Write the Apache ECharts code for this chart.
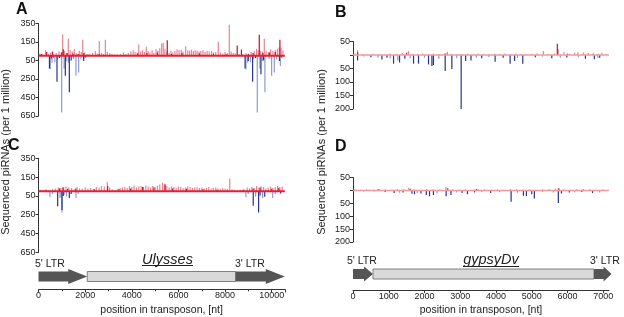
<!DOCTYPE html>
<html>
<head>
<meta charset="utf-8">
<script src="https://cdn.jsdelivr.net/npm/echarts@6/dist/echarts.min.js"></script>
<style>
  html, body { margin: 0; padding: 0; background: #fff; }
  #main { width: 624px; height: 317px; }
</style>
</head>
<body>
<div id="main"></div>
<script>
// transposon lengths (nt) used as x-axis ends
const ulyssesLen = 10560;
const gypsyLen = 7160;

// gene structure: [start, end, kind]  kind 1 = LTR arrow, 0 = body
const ulyssesParts = [[0, 2090, 1], [2090, 8450, 0], [8450, 10560, 1]];
const gypsyParts = [[0, 560, 1], [560, 6740, 0], [6740, 7230, 1]];

// y ticks (labels are absolute values)
const ulyssesTicks = {min: -650, max: 350, step: 200};
const gypsyTicks = {min: -200, max: 50, step: 50};

// panel A  [position, reads]
const aPink = [[60,25],[180,15],[300,60],[420,20],[520,35],[640,15],[760,30],[880,45],[980,40],[1037,228],[1120,55],[1200,30],[1278,184],[1360,60],[1450,45],[1540,70],[1620,30],[1750,55],[1830,40],[1894,173],[1980,35],[2080,20],[2200,15],[2320,30],[2440,50],[2520,25],[2607,160],[2700,30],[2780,20],[2865,173],[2950,40],[3050,30],[3150,20],[3260,15],[3400,10],[3520,20],[3640,35],[3740,20],[3850,30],[3960,45],[4060,60],[4140,40],[4230,35],[4300,121],[4380,45],[4460,60],[4540,40],[4620,96],[4700,50],[4780,35],[4870,60],[4950,30],[5040,70],[5120,55],[5200,80],[5280,131],[5350,139],[5420,75],[5500,45],[5600,30],[5680,55],[5760,35],[5850,50],[5940,70],[6030,60],[6120,65],[6200,45],[6310,103],[6400,60],[6480,55],[6560,65],[6640,50],[6720,60],[6800,55],[6880,45],[6960,50],[7050,60],[7140,40],[7230,55],[7320,45],[7420,50],[7500,35],[7600,40],[7707,150],[7800,35],[7900,25],[8000,40],[8100,30],[8180,335],[8260,45],[8350,30],[8440,25],[8600,20],[8760,15],[8900,30],[9000,20],[9120,40],[9250,55],[9350,75],[9420,60],[9520,50],[9600,45],[9680,184],[9760,55],[9860,40],[9950,70],[10050,55],[10150,60],[10240,75],[10320,90],[10400,85],[10480,60]];
const aRed = [[120,20],[350,40],[600,45],[1000,35],[1060,70],[1230,30],[1480,25],[1700,20],[1940,30],[2150,10],[2600,20],[3350,10],[4250,25],[4650,30],[5100,35],[5520,167],[5700,20],[6150,30],[6900,25],[7500,20],[8050,15],[8520,110],[8700,67],[9000,20],[9200,30],[9465,226],[9620,30],[9900,35],[10150,40],[10350,173]];
const aLightBlue = [[506,-145],[580,-75],[700,-70],[820,-40],[993,-612],[1100,-138],[1210,-60],[1280,-75],[1500,-35],[1607,-216],[1722,-180],[1820,-40],[1950,-30],[8893,-145],[8970,-75],[9090,-70],[9210,-40],[9380,-612],[9490,-138],[9600,-60],[9708,-393],[9890,-35],[9995,-216],[10110,-180],[10210,-40],[10370,-110]];
const aDarkBlue = [[470,-138],[550,-30],[640,-20],[793,-280],[900,-25],[1150,-216],[1322,-393],[1400,-50],[1937,-57],[2020,-20],[8857,-138],[8993,-57],[9180,-280],[9300,-25],[9537,-200],[9650,-50],[10330,-57],[10420,-20]];

// panel C
const cPink = [[80,15],[200,10],[330,20],[450,10],[600,25],[720,30],[850,40],[960,35],[1080,45],[1180,50],[1300,40],[1420,35],[1530,20],[1650,45],[1760,30],[1880,25],[2000,40],[2120,30],[2240,35],[2360,25],[2480,45],[2600,40],[2700,55],[2820,50],[2950,97],[3050,40],[3160,20],[3280,10],[3400,25],[3500,35],[3600,40],[3700,45],[3800,35],[3900,55],[4000,45],[4100,60],[4200,40],[4300,50],[4400,55],[4500,45],[4600,60],[4700,50],[4800,40],[4900,55],[5000,45],[5100,60],[5200,70],[5320,90],[5400,75],[5500,55],[5600,40],[5700,50],[5800,45],[5900,40],[6000,50],[6100,45],[6200,35],[6300,40],[6400,50],[6500,45],[6600,35],[6700,40],[6800,45],[6900,35],[7000,40],[7100,30],[7200,35],[7300,45],[7400,30],[7500,35],[7600,40],[7700,30],[7800,25],[7900,35],[8000,30],[8100,25],[8200,136],[8300,20],[8400,15],[8500,10],[8650,15],[8800,25],[8950,40],[9050,30],[9150,45],[9250,35],[9350,55],[9450,40],[9550,50],[9650,45],[9750,30],[9850,40],[9950,50],[10050,35],[10150,45],[10250,55],[10350,45],[10450,50]];
const cRed = [[300,10],[900,30],[1050,40],[1250,25],[1600,30],[2400,20],[2965,54],[3450,20],[3950,30],[4465,45],[4950,40],[5430,72],[5750,30],[6350,25],[7050,20],[7650,15],[8750,10],[9200,30],[9500,40],[10000,25],[10300,35]];
const cLightBlue = [[493,-64],[600,-30],[920,-72],[960,-60],[1007,-226],[1100,-40],[1200,-55],[1607,-72],[1700,-30],[8893,-64],[8990,-30],[9310,-60],[9610,-72],[10040,-72],[10150,-30]];
const cDarkBlue = [[822,-161],[1007,-200],[1060,-50],[1322,-72],[1400,-30],[9207,-154],[9437,-226],[9500,-45],[9700,-60],[10380,-25]];

// panel B
const bPink = [[60,6],[128,17],[250,4],[400,3],[560,5],[720,4],[880,3],[1040,6],[1200,5],[1380,7],[1553,15],[1650,5],[1800,4],[1950,6],[2100,3],[2250,5],[2400,4],[2560,6],[2642,12],[2760,5],[2900,3],[3040,4],[3200,5],[3350,3],[3500,6],[3650,4],[3800,3],[3960,5],[4100,4],[4250,6],[4400,3],[4550,5],[4700,4],[4850,3],[5000,5],[5150,6],[5324,15],[5480,4],[5640,6],[5740,21],[5900,12],[6060,5],[6200,8],[6290,10],[6440,9],[6580,7],[6720,8],[6850,5],[6960,8],[7080,4]];
const bRed = [[128,10],[1500,8],[2600,6],[5715,42],[6000,5]];
const bLightBlue = [[300,-6],[700,-10],[1040,-14],[1250,-20],[1600,-12],[2000,-10],[2400,-15],[2900,-12],[3450,-10],[3800,-8],[4600,-12],[5300,-6],[5800,-10],[6300,-8],[6850,-12]];
const bDarkBlue = [[128,-20],[500,-8],[810,-17],[950,-10],[1134,-32],[1302,-28],[1450,-14],[1693,-32],[1832,-32],[2112,-35],[2207,-41],[2250,-37],[2578,-59],[2765,-52],[3025,-200],[3150,-22],[3300,-20],[3600,-12],[3975,-25],[4200,-10],[4394,-32],[4520,-22],[4748,-32],[5100,-8],[5560,-12],[5980,-9],[6500,-14],[6750,-16],[6900,-10]];

// panel D
const dPink = [[50,4],[200,3],[380,4],[560,3],[740,5],[900,4],[1060,3],[1240,5],[1420,4],[1560,10],[1700,4],[1880,3],[2060,5],[2240,4],[2420,3],[2600,13],[2780,4],[2960,3],[3140,4],[3320,3],[3500,5],[3680,4],[3860,3],[4040,4],[4220,3],[4400,5],[4580,4],[4760,3],[4940,4],[5120,3],[5300,4],[5480,5],[5660,6],[5743,10],[5900,4],[6080,3],[6260,4],[6440,5],[6620,4],[6800,3],[6980,4]];
const dRed = [[700,4],[1600,6],[2650,8],[3450,5],[5760,7]];
const dLightBlue = [[300,-4],[600,-5],[1300,-9],[1800,-10],[2350,-12],[2900,-8],[3600,-6],[4100,-7],[4600,-9],[5300,-6],[5600,-8],[6200,-7],[6900,-8]];
const dDarkBlue = [[900,-6],[1150,-10],[1400,-8],[1650,-13],[1720,-15],[1900,-12],[2050,-18],[2140,-23],[2250,-18],[2606,-23],[2740,-18],[3050,-10],[3200,-15],[3400,-8],[3850,-10],[4422,-44],[4766,-21],[4850,-22],[5000,-15],[5073,-31],[5743,-49],[5830,-12],[6050,-8],[6400,-6],[6700,-10]];

const FONT = 'Liberation Sans, Arial, sans-serif';
const PINK = '#e8848f', RED = '#c40d2b', LBLUE = '#8d9ccc', DBLUE = '#27348a';

const chart = echarts.init(document.getElementById('main'), null, {renderer: 'canvas'});

const grids = [
  {left: 38.5, top: 23.3, width: 246.3, height: 92.7},   // A
  {left: 38.5, top: 158.3, width: 246.3, height: 94},    // C
  {left: 353, top: 41.5, width: 256, height: 67.5},      // B
  {left: 353, top: 177.5, width: 256, height: 64.5},     // D
  {left: 38.5, top: 263.7, width: 246.3, height: 25.6},  // Ulysses map + axis
  {left: 353, top: 258, width: 256, height: 32}          // gypsyDv map + axis
].map(g => Object.assign({outerBoundsMode: 'none', containLabel: false}, g));

function panelY(idx, t) {
  return {
    gridIndex: idx, type: 'value', min: t.min, max: t.max, interval: t.step,
    axisLine: {show: true, lineStyle: {color: '#333', width: 1}},
    axisTick: {show: true, length: 3, lineStyle: {color: '#333'}},
    splitLine: {show: false},
    axisLabel: {
      fontSize: 9, color: '#222', fontFamily: FONT, margin: 3,
      formatter: v => (v === 0 ? '' : String(Math.abs(v)))
    }
  };
}
function hiddenX(idx, max) {
  return {gridIndex: idx, type: 'value', min: 0, max: max, show: false};
}
function bottomX(idx, max, step, minor) {
  return {
    gridIndex: idx, type: 'value', min: 0, max: max, interval: step,
    name: 'position in transposon, [nt]', nameLocation: 'middle', nameGap: 15,
    nameTextStyle: {fontSize: 10.5, color: '#222', fontFamily: FONT},
    axisLine: {show: true, onZero: false, lineStyle: {color: '#333'}},
    axisTick: {show: true, length: 3, lineStyle: {color: '#333'}},
    minorTick: {show: minor, splitNumber: 2, length: 2, lineStyle: {color: '#333'}},
    splitLine: {show: false},
    axisLabel: {fontSize: 9, color: '#222', fontFamily: FONT, margin: 2, showMaxLabel: false,
      formatter: v => String(v)}
  };
}

function bars(axis, data, color) {
  return {
    type: 'bar', xAxisIndex: axis, yAxisIndex: axis, data: data,
    barWidth: 1.2, barGap: '-100%', silent: true, animation: false,
    itemStyle: {color: color}
  };
}
function zeroLine(axis, max, color, width) {
  return {
    type: 'line', xAxisIndex: axis, yAxisIndex: axis, data: [[0, 0], [max, 0]],
    showSymbol: false, symbol: 'none', silent: true, animation: false, z: 5,
    lineStyle: {color: color, width: width}
  };
}

function geneSeries(axis, parts) {
  return {
    type: 'custom', xAxisIndex: axis, yAxisIndex: axis, clip: false, silent: true,
    animation: false,
    data: parts.map(p => [p[0], p[1]]),
    encode: {x: [0, 1]},
    renderItem: function (params, api) {
      const part = parts[params.dataIndex];
      const a = api.coord([part[0], 0.5]);
      const b = api.coord([part[1], 0.5]);
      const y = a[1];
      if (part[2] === 1) {
        const head = Math.min(19, (b[0] - a[0]) * 0.45);
        const sh = 5, hh = 7.5;
        return {
          type: 'polygon',
          shape: {points: [[a[0], y - sh], [b[0] - head, y - sh], [b[0] - head, y - hh], [b[0], y],
                           [b[0] - head, y + hh], [b[0] - head, y + sh], [a[0], y + sh]]},
          style: {fill: '#555555'}
        };
      }
      return {
        type: 'rect',
        shape: {x: a[0], y: y - 5, width: b[0] - a[0], height: 10},
        style: {fill: '#d9d9d9', stroke: '#808080', lineWidth: 1}
      };
    }
  };
}

function txt(x, y, text, opts) {
  return {
    type: 'text', x: x, y: y, silent: true,
    style: Object.assign({text: text, fontFamily: FONT, fill: '#222', fontSize: 10.5,
      verticalAlign: 'middle'}, opts || {})
  };
}

const graphic = [
  txt(16, 10, 'A', {fontSize: 16, fontWeight: 'bold', fill: '#111'}),
  txt(335, 12.5, 'B', {fontSize: 16, fontWeight: 'bold', fill: '#111'}),
  txt(8, 145.5, 'C', {fontSize: 16, fontWeight: 'bold', fill: '#111'}),
  txt(335, 146.5, 'D', {fontSize: 16, fontWeight: 'bold', fill: '#111'}),
  {type: 'text', x: 5.5, y: 152, rotation: Math.PI / 2, silent: true,
   style: {text: 'Sequenced piRNAs (per 1 million)', fontFamily: FONT, fontSize: 11, fill: '#222',
     align: 'center', verticalAlign: 'middle'}},
  {type: 'text', x: 322, y: 152, rotation: Math.PI / 2, silent: true,
   style: {text: 'Sequenced piRNAs (per 1 million)', fontFamily: FONT, fontSize: 11, fill: '#222',
     align: 'center', verticalAlign: 'middle'}},
  txt(35, 264, "5' LTR"),
  txt(235, 264, "3' LTR"),
  txt(167.5, 259.5, 'Ulysses', {fontSize: 14.5, fontStyle: 'italic', align: 'center'}),
  {type: 'line', silent: true, shape: {x1: 142, y1: 265.5, x2: 193, y2: 265.5},
   style: {stroke: '#222', lineWidth: 1}},
  txt(347, 261.5, "5' LTR"),
  txt(590, 261.5, "3' LTR"),
  txt(491, 259.5, 'gypsyDv', {fontSize: 14.5, fontStyle: 'italic', align: 'center'}),
  {type: 'line', silent: true, shape: {x1: 463, y1: 266.5, x2: 519, y2: 266.5},
   style: {stroke: '#222', lineWidth: 1}}
];

chart.setOption({
  animation: false,
  backgroundColor: '#ffffff',
  grid: grids,
  xAxis: [
    hiddenX(0, ulyssesLen), hiddenX(1, ulyssesLen), hiddenX(2, gypsyLen), hiddenX(3, gypsyLen),
    bottomX(4, ulyssesLen, 2000, true), bottomX(5, gypsyLen, 1000, false)
  ],
  yAxis: [
    panelY(0, ulyssesTicks), panelY(1, ulyssesTicks), panelY(2, gypsyTicks), panelY(3, gypsyTicks),
    {gridIndex: 4, type: 'value', min: 0, max: 1, show: false},
    {gridIndex: 5, type: 'value', min: 0, max: 1, show: false}
  ],
  graphic: graphic,
  series: [
    bars(0, aPink, PINK), bars(0, aRed, RED), bars(0, aLightBlue, LBLUE), bars(0, aDarkBlue, DBLUE),
    zeroLine(0, ulyssesLen, '#e3203b', 2),
    bars(1, cPink, PINK), bars(1, cRed, RED), bars(1, cLightBlue, LBLUE), bars(1, cDarkBlue, DBLUE),
    zeroLine(1, ulyssesLen, '#e3203b', 2),
    bars(2, bPink, PINK), bars(2, bRed, RED), bars(2, bLightBlue, LBLUE), bars(2, bDarkBlue, DBLUE),
    zeroLine(2, gypsyLen, '#f09aa4', 1.5),
    bars(3, dPink, PINK), bars(3, dRed, RED), bars(3, dLightBlue, LBLUE), bars(3, dDarkBlue, DBLUE),
    zeroLine(3, gypsyLen, '#f09aa4', 1.5),
    geneSeries(4, ulyssesParts),
    geneSeries(5, gypsyParts)
  ]
});
</script>
</body>
</html>
